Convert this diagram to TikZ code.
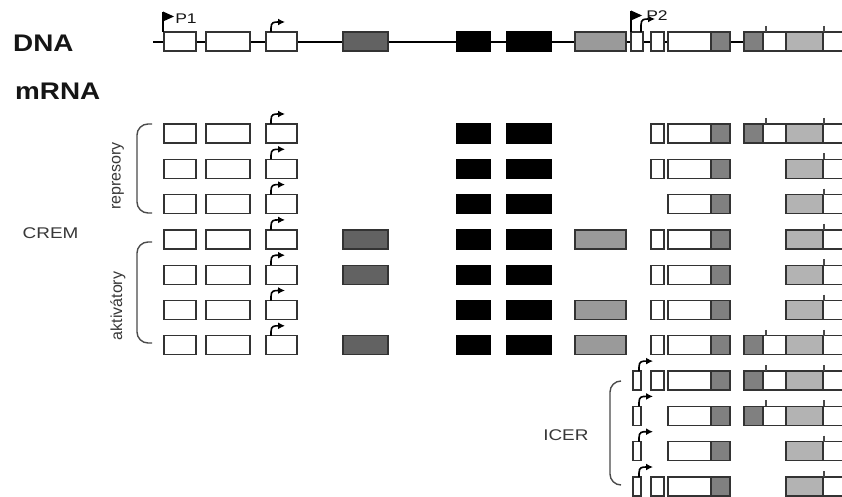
\documentclass[tikz,border=0pt]{standalone}
\usepackage{fontspec}
\setmainfont{Liberation Sans}
\usetikzlibrary{arrows.meta}
\definecolor{Ink}{HTML}{151515}
\definecolor{Muted}{HTML}{4A4A4A}
\definecolor{Outline}{HTML}{333333}
\definecolor{ExDark}{HTML}{626262}
\definecolor{ExMid}{HTML}{9A9A9A}
\definecolor{ExGrey}{HTML}{808080}
\definecolor{ExLight}{HTML}{B3B3B3}
\tikzset{
  exwhite/.style={draw=Outline,fill=white,line width=1.25pt},
  exblack/.style={draw=black,fill=black,line width=1.25pt},
  exdark/.style={draw=Outline,fill=ExDark,line width=1.25pt},
  exmid/.style={draw=Outline,fill=ExMid,line width=1.25pt},
  exgrey/.style={draw=Outline,fill=ExGrey,line width=1.25pt},
  exlight/.style={draw=Outline,fill=ExLight,line width=1.25pt},
  backbone/.style={draw=black,line width=1.8pt},
  tss/.style={-{Latex[length=7pt,width=7pt]},draw=black,line width=1.6pt},
  exontick/.style={draw=Muted,line width=1.4pt},
  groupbrace/.style={draw=Muted,line width=1.4pt,rounded corners=11pt},
  headline/.style={font=\fontsize{24}{28}\selectfont\bfseries,text=Ink,xscale=1.16,inner sep=0pt},
  sidelabel/.style={font=\fontsize{15.5}{18}\selectfont,text=Ink!85,xscale=1.22,inner sep=0pt},
  uplabel/.style={font=\fontsize{16}{18}\selectfont,text=Ink!85,rotate=90,inner sep=0pt},
  promlabel/.style={font=\fontsize{14}{16}\selectfont,text=Ink,xscale=1.25,inner sep=0pt}
}
% one exon: style, left, right, top of the row
\newcommand{\exon}[4]{\draw[#1] (#2,#4) rectangle (#3,#4+19);}
% bent arrow of a start site, [rise]{x}{top}
\newcommand{\tss}[3][10]{\draw[tss] (#2,#3) -- (#2,#3-#1+6) .. controls (#2,#3-#1) and (#2+3,#3-#1) .. (#2+14,#3-#1);}
\newcommand{\exFront}[1]{\exon{exwhite}{164}{196}{#1}\exon{exwhite}{206}{250}{#1}\exon{exwhite}{266}{297}{#1}\tss{271}{#1}}
\newcommand{\exFour}[1]{\exon{exdark}{343}{388}{#1}}
\newcommand{\exBlack}[1]{\exon{exblack}{457}{490}{#1}\exon{exblack}{507}{551}{#1}}
\newcommand{\exSeven}[1]{\exon{exmid}{575}{626}{#1}}
\newcommand{\exSmall}[1]{\exon{exwhite}{651}{664}{#1}}
\newcommand{\exCore}[1]{\exon{exwhite}{668}{711}{#1}\exon{exgrey}{711}{730}{#1}}
\newcommand{\tailShort}[1]{\exon{exlight}{786}{823}{#1}\exon{exwhite}{823}{852}{#1}\draw[exontick] (824,#1-6) -- (824,#1);}
\newcommand{\tailLong}[1]{\exon{exgrey}{744}{763}{#1}\exon{exwhite}{763}{786}{#1}\tailShort{#1}\draw[exontick] (766,#1-6) -- (766,#1);}
\newcommand{\exIcer}[1]{\exon{exwhite}{633}{641}{#1}\tss{639}{#1}}

\begin{document}
\begin{tikzpicture}[x=1pt,y=-1pt]
  \useasboundingbox (0,0) rectangle (842,497);
  \fill[white] (0,0) rectangle (842,497);
  \clip (0,0) rectangle (842,497);

  \node[headline,anchor=base west] (dna) at (13,51.5) {DNA};
  \node[headline,anchor=base west] (mrna) at (15,100) {mRNA};

  % gene
  \draw[backbone] (153,42) -- (852,42);
  \exFront{32}
  \exFour{32}
  \exBlack{32}
  \exSeven{32}
  \exon{exwhite}{631}{643}{32}
  \tss[13]{641}{32}
  \exSmall{32}
  \exCore{32}
  \tailLong{32}

  % promoters
  \draw[line width=1.3pt] (163,32) -- (163,12);
  \fill (163,11.5) -- (174,16.5) -- (163,21.5) -- cycle;
  \node[promlabel,anchor=base west] (p1) at (175,23.3) {P1};
  \draw[line width=1.3pt] (631,32) -- (631,11);
  \fill (631,10.5) -- (642,15.5) -- (631,20.5) -- cycle;
  \node[promlabel,anchor=base west] (p2) at (646,21) {P2};

  % CREM transcripts
  \exFront{124}\exBlack{124}\exSmall{124}\exCore{124}\tailLong{124}
  \exFront{159.3}\exBlack{159.3}\exSmall{159.3}\exCore{159.3}\tailShort{159.3}
  \exFront{194.6}\exBlack{194.6}\exCore{194.6}\tailShort{194.6}
  \exFront{229.9}\exFour{229.9}\exBlack{229.9}\exSeven{229.9}\exSmall{229.9}\exCore{229.9}\tailShort{229.9}
  \exFront{265.2}\exFour{265.2}\exBlack{265.2}\exSmall{265.2}\exCore{265.2}\tailShort{265.2}
  \exFront{300.5}\exBlack{300.5}\exSeven{300.5}\exSmall{300.5}\exCore{300.5}\tailShort{300.5}
  \exFront{335.8}\exFour{335.8}\exBlack{335.8}\exSeven{335.8}\exSmall{335.8}\exCore{335.8}\tailLong{335.8}

  % ICER transcripts
  \exIcer{371.1}\exSmall{371.1}\exCore{371.1}\tailLong{371.1}
  \exIcer{406.4}\exCore{406.4}\tailLong{406.4}
  \exIcer{441.7}\exCore{441.7}\tailShort{441.7}
  \exIcer{477}\exSmall{477}\exCore{477}\tailShort{477}

  % groups
  \draw[groupbrace] (152,124) -| (137,168) |- (152,213);
  \draw[groupbrace] (152,242) -| (137,292) |- (152,343);
  \draw[groupbrace] (621,381) -| (610,433) |- (621,485);
  \node[uplabel] (repr) at (118,176) {represory};
  \node[uplabel] (aktiv) at (118,306) {aktivátory};
  \node[sidelabel,anchor=base west] (crem) at (22.5,238) {CREM};
  \node[sidelabel,anchor=base west] (icer) at (543,440.5) {ICER};
\end{tikzpicture}
\end{document}
